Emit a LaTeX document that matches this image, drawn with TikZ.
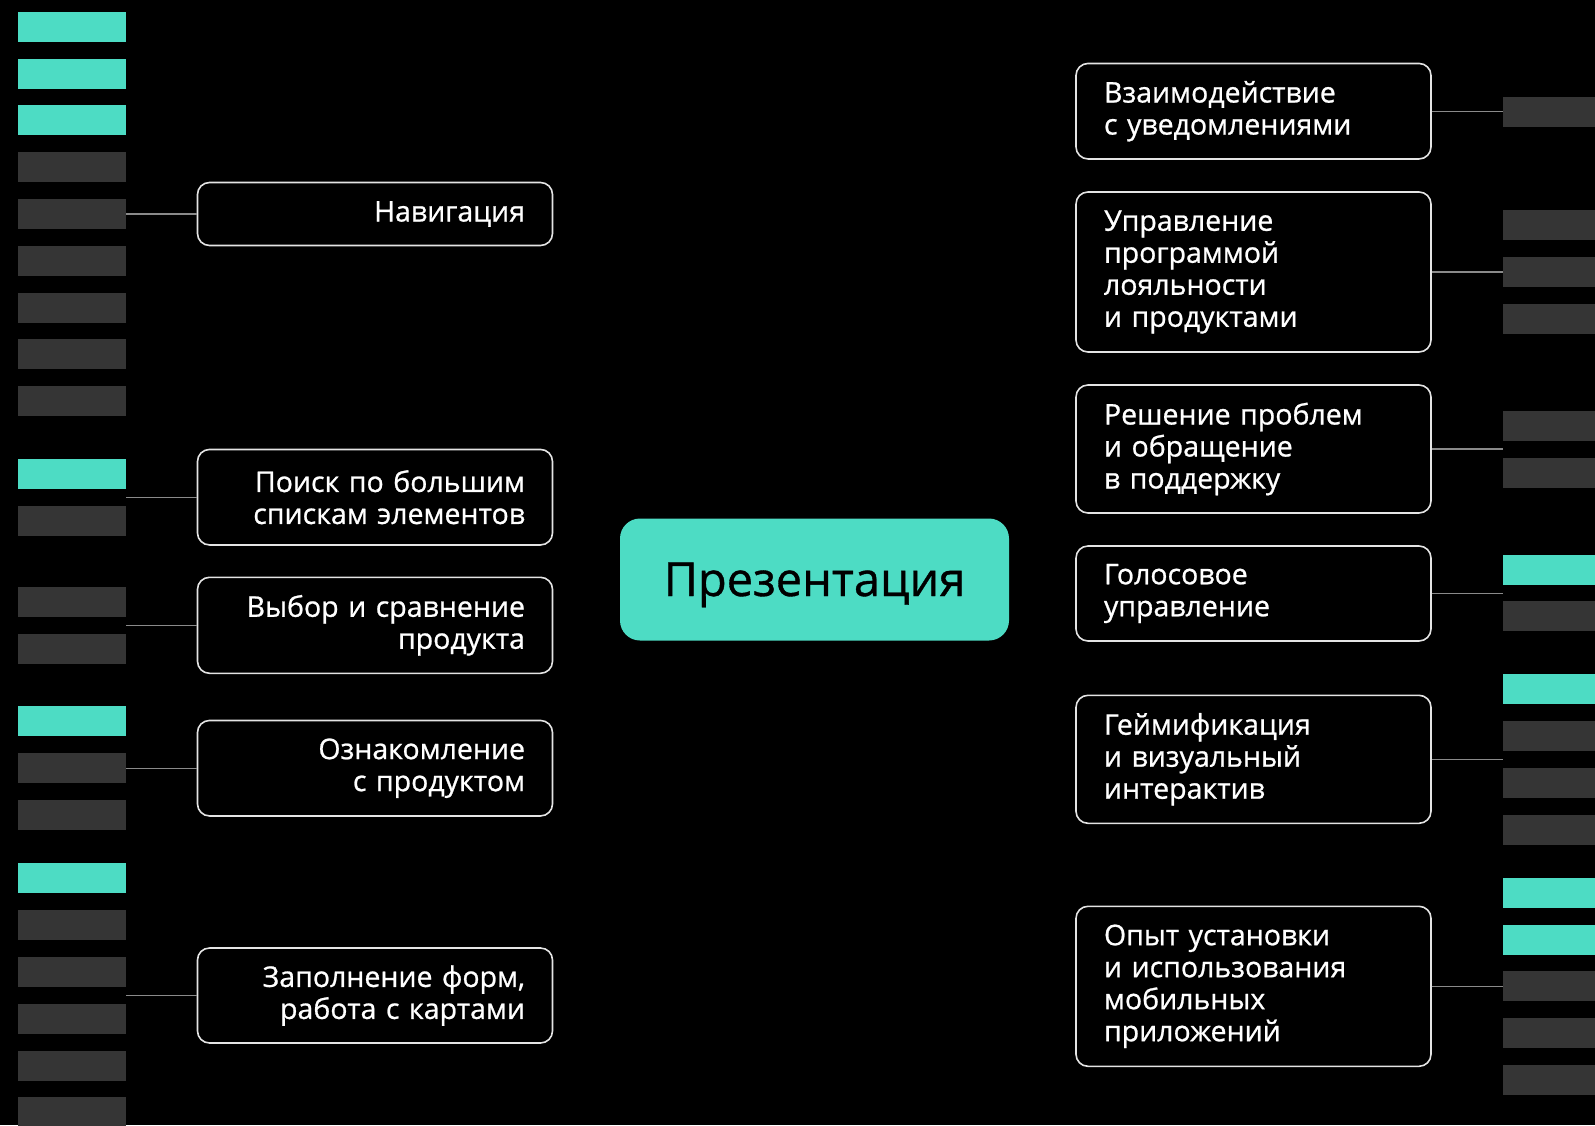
\documentclass[tikz,border=0pt]{standalone}
\usepackage{fontspec}
\setmainfont{Open Sans}[FakeBold=0.8]
\definecolor{tealc}{HTML}{4DDCC4}
\definecolor{darkbar}{HTML}{353535}
\definecolor{boxline}{HTML}{E4E4E4}
\definecolor{connline}{HTML}{8A8A8A}
\begin{document}
\begin{tikzpicture}[x=1pt,y=-1pt,
  lbox/.style={draw=boxline, line width=1.6pt, rounded corners=12pt, fill=black,
    text=white, text width=300pt, inner xsep=27.5pt, inner ysep=0pt, align=right,
    font=\fontsize{28.5}{32}\selectfont},
  rbox/.style={lbox, align=left, inner xsep=28pt, text width=299pt},
  conn/.style={draw=connline, line width=1.3pt},
  barT/.style={fill=tealc},
  barD/.style={fill=darkbar}]
\fill[black] (0,0) rectangle (1595,1125);
\useasboundingbox (0,0) rectangle (1595,1125);
\begin{scope}
\clip (0,0) rectangle (1595,1125);
% left bars
\foreach \t in {11.8,58.5,105.2,459,706,863}
  \fill[barT] (17.5,\t) rectangle (125.5,\t+30);
\foreach \t in {152.3,199,245.8,292.6,339.4,386.2,505.8,587,634,753,800,910,957,1003.8,1050.6,1097.4}
  \fill[barD] (17.5,\t) rectangle (125.5,\t+30);
% right bars
\foreach \t in {554.5,674,877.5,924.5}
  \fill[barT] (1503,\t) rectangle (1600,\t+30);
\foreach \t in {96.5,210.3,257,304,410.8,457.6,601,720.5,767.5,814.5,971.3,1018.3,1065.3}
  \fill[barD] (1503,\t) rectangle (1600,\t+30);
\end{scope}
\coordinate (leftedge) at (125.5,0);
\coordinate (rightedge) at (1503,0);
% center
\node[fill=tealc, rounded corners=20pt, minimum width=389pt, minimum height=122pt,
  font=\fontsize{47}{50}\selectfont, text=black, text height=33pt, text depth=0pt]
  (c) at (814.5,579.5) {Презентация};
% left boxes
\node[lbox, minimum height=63pt] (l1) at (375,214) {Навигация};
\node[lbox, minimum height=95.5pt] (l2) at (375,497.2) {Поиск по большим\\спискам элементов};
\node[lbox, minimum height=96pt] (l3) at (375,625.3) {Выбор и сравнение\\продукта};
\node[lbox, minimum height=95.5pt] (l4) at (375,768.2) {Ознакомление\\с продуктом};
\node[lbox, minimum height=95pt] (l5) at (375,995.5) {Заполнение форм,\\работа с картами};
% right boxes
\node[rbox, minimum height=95.5pt] (r1) at (1253.5,111.2) {Взаимодействие\\с уведомлениями};
\node[rbox, minimum height=160pt] (r2) at (1253.5,272) {Управление\\программой\\лояльности\\и продуктами};
\node[rbox, minimum height=128pt] (r3) at (1253.5,449) {Решение проблем\\и обращение\\в поддержку};
\node[rbox, minimum height=95pt] (r4) at (1253.5,593.5) {Голосовое\\управление};
\node[rbox, minimum height=128pt] (r5) at (1253.5,759.3) {Геймификация\\и визуальный\\интерактив};
\node[rbox, minimum height=160pt] (r6) at (1253.5,986.3) {Опыт установки\\и использования\\мобильных\\приложений};
% connectors
\foreach \n in {l1,l2,l3,l4,l5}
  \draw[conn] (\n.west) -- (\n.west -| leftedge);
\foreach \n in {r1,r2,r3,r4,r5,r6}
  \draw[conn] (\n.east) -- (\n.east -| rightedge);
\end{tikzpicture}
\end{document}
